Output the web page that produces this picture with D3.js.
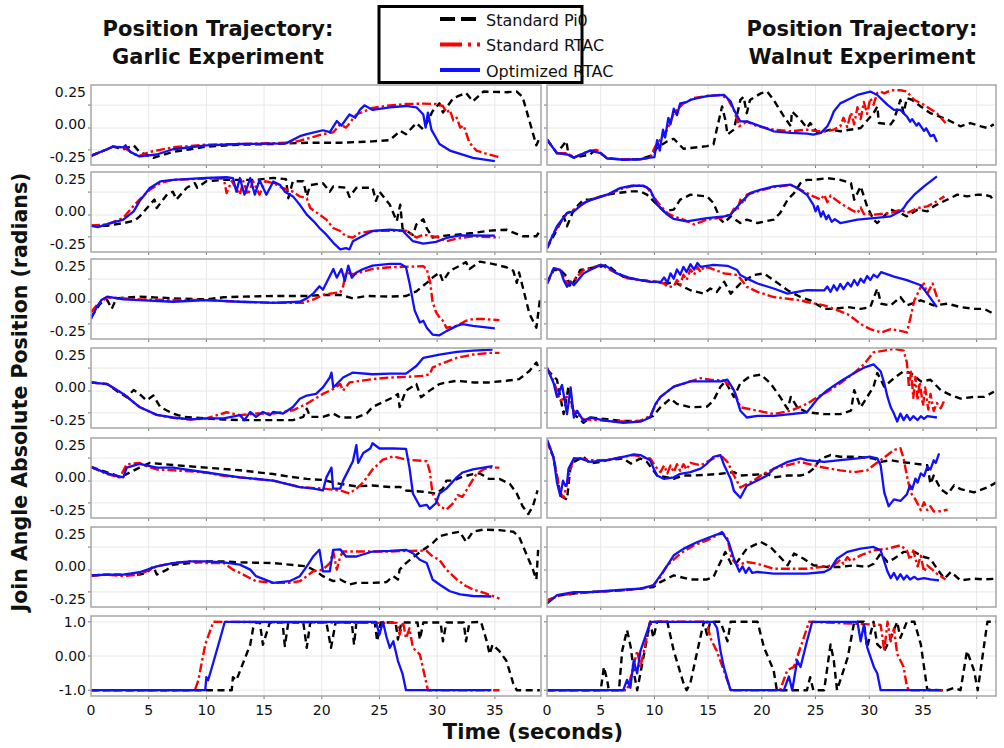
<!DOCTYPE html>
<html>
<head>
<meta charset="utf-8">
<script src="https://cdn.jsdelivr.net/npm/d3@7"></script>
<style>
  body { margin: 0; background: #fff; }
  text { font-family: "DejaVu Sans", sans-serif; fill: #111; }
</style>
</head>
<body>
<div id="chart"></div>
<script>
// ---- data: [time (s), position] per joint (rows 1-6) and gripper (row 7) ----
const seriesNames = ["Standard Pi0", "Standard RTAC", "Optimized RTAC"];
const xTicks = [0, 5, 10, 15, 20, 25, 30, 35];
const jointTickLabels = ["-0.25", "0.00", "0.25"];
const gripperTickLabels = ["-1.0", "0.00", "1.0"];

const garlicPi0 = [
  [[0,-0.24],[1.4,-0.19],[1.9,-0.17],[2.8,-0.19],[3.7,-0.16],[4.2,-0.21],[5.4,-0.255],[7.1,-0.21],[8.6,-0.19],[10,-0.17],[12.9,-0.155],[15.8,-0.15],[18.7,-0.14],[21.6,-0.14],[24.4,-0.13],[25.9,-0.12],[26.8,-0.05],[27.3,-0.075],[28.2,0.01],[28.8,-0.04],[29.6,0.1],[30.2,0.16],[30.5,0.09],[31.4,0.2],[32.5,0.24],[33.1,0.175],[34.0,0.25],[36.0,0.245],[36.9,0.25],[37.4,0.21],[38.0,0.025],[38.6,-0.16],[38.9,-0.1]],
  [[0,-0.11],[1.4,-0.11],[2.8,-0.09],[3.8,-0.07],[4.2,-0.04],[4.8,0.02],[5.5,0.09],[5.7,0.025],[6.6,0.13],[7.1,0.15],[7.4,0.09],[8.3,0.18],[9.0,0.215],[9.2,0.18],[10,0.23],[11.5,0.24],[14.3,0.24],[15.8,0.255],[16.9,0.245],[17.1,0.1],[17.5,0.23],[18.4,0.23],[18.7,0.115],[19.0,0.2],[20.1,0.215],[20.7,0.15],[21.0,0.19],[22.1,0.18],[22.4,0.11],[23.0,0.18],[24.4,0.18],[24.7,0.08],[25.0,0.15],[25.9,0.05],[26.5,-0.075],[26.8,0.05],[27.0,-0.13],[27.9,-0.18],[28.2,-0.1],[28.8,-0.06],[29.1,-0.13],[29.6,-0.2],[30.2,-0.19],[31.7,-0.178],[33.1,-0.165],[34.6,-0.147],[36.0,-0.14],[37.4,-0.19],[38.6,-0.19],[38.9,-0.15]],
  [[0,-0.145],[0.8,-0.04],[1.4,-0.013],[1.8,-0.08],[2.2,0.0],[4.2,0.013],[7.1,0.0],[10,-0.008],[11.5,0.008],[12.9,0.013],[15.8,0.018],[18.7,0.018],[20.1,0.026],[21.6,0.026],[22.7,0.0],[23.9,0.018],[25.9,0.013],[27.3,0.018],[28.2,0.053],[29.1,0.118],[29.6,0.158],[30.2,0.197],[30.5,0.13],[31.1,0.21],[31.7,0.237],[32.5,0.276],[32.8,0.224],[33.7,0.28],[34.8,0.263],[36.0,0.237],[36.6,0.21],[36.9,0.118],[37.1,0.197],[37.4,0.092],[38.0,-0.118],[38.6,-0.224],[38.9,-0.013]],
  [[0,0.0375],[1.4,0.025],[2.2,-0.025],[3.1,-0.075],[3.7,-0.02],[4.2,-0.05],[4.8,-0.1],[5.4,-0.0625],[6.0,-0.15],[7.1,-0.2],[8.0,-0.225],[10,-0.237],[11.5,-0.245],[12.9,-0.25],[15.8,-0.25],[17.5,-0.25],[18.4,-0.225],[18.7,-0.1625],[19.0,-0.225],[20.1,-0.225],[21.0,-0.2],[21.6,-0.23],[23.0,-0.23],[23.9,-0.2],[24.4,-0.15],[25.3,-0.1125],[26.2,-0.075],[26.6,-0.05],[26.75,-0.15],[27.3,-0.025],[28.2,0.025],[28.6,-0.075],[29.35,-0.025],[30.2,0.025],[30.8,0.0375],[31.7,0.05],[33.1,0.0375],[34.5,0.0375],[36.0,0.05],[37.1,0.0625],[38.0,0.125],[38.6,0.19],[38.9,0.125]],
  [[0,0.079],[1.4,0.037],[1.9,0.025],[2.5,0.0],[2.8,0.012],[4.2,0.074],[5.1,0.11],[7.1,0.094],[10,0.074],[12.9,0.054],[15.8,0.025],[17.2,0.005],[18.7,-0.012],[20.1,-0.02],[21.6,-0.05],[23.0,-0.069],[24.4,-0.062],[25.9,-0.074],[26.8,-0.074],[27.3,-0.1],[28.8,-0.11],[29.9,-0.123],[30.5,-0.086],[30.8,-0.025],[31.4,-0.025],[32.2,0.005],[33.1,0.025],[33.7,0.03],[34.5,-0.012],[35.4,-0.012],[36.3,-0.05],[36.9,-0.123],[37.4,-0.22],[37.9,-0.28],[38.3,-0.22],[38.7,-0.1]],
  [[0,-0.07],[1.4,-0.063],[2.8,-0.063],[4.2,-0.063],[4.8,-0.05],[5.4,0.0],[5.7,-0.063],[6.6,-0.025],[7.1,0.0126],[8.6,0.025],[10,0.038],[11.5,0.038],[12.9,0.03],[15.8,0.025],[17.2,0.013],[18.7,0.0],[19.5,-0.038],[20.1,-0.075],[21.0,-0.113],[21.6,-0.1],[22.4,-0.138],[23.0,-0.126],[24.4,-0.126],[25.6,-0.12],[26.2,-0.075],[26.6,-0.1],[26.75,-0.025],[27.3,0.025],[28.2,0.088],[28.8,0.126],[29.6,0.176],[30.2,0.23],[31.1,0.25],[31.95,0.264],[32.5,0.188],[33.1,0.264],[34.0,0.28],[35.4,0.276],[36.6,0.264],[37.1,0.226],[37.7,0.1],[38.3,-0.025],[38.6,-0.1],[38.75,0.126]],
  [[0,-1],[12.2,-1],[12.3,-0.62],[12.6,-0.71],[13.8,0.33],[14.05,0.81],[14.3,0.98],[14.63,0.98],[14.9,0.33],[15.5,0.98],[16.6,0.98],[16.8,0.29],[17.1,0.98],[18.4,0.98],[18.7,0.24],[19.0,0.98],[20.4,0.98],[20.8,0.24],[21.2,0.98],[22.6,0.98],[22.8,0.33],[23.0,0.98],[24.6,0.98],[24.8,0.43],[25.1,0.98],[26.4,0.98],[26.6,0.48],[26.9,0.98],[28.3,0.98],[28.5,0.48],[28.8,0.98],[30.3,0.98],[30.5,0.43],[30.8,0.98],[32.3,0.98],[32.5,0.43],[32.8,0.98],[33.8,1.0],[34.3,0.43],[34.55,0.05],[34.8,0.33],[35.4,0.14],[36.0,-0.14],[36.6,-0.81],[36.9,-1],[38.9,-1]]
];

const garlicRtac = [
  [[0,-0.24],[1.4,-0.19],[1.9,-0.17],[2.8,-0.175],[3.7,-0.225],[4.2,-0.24],[5.1,-0.21],[7.1,-0.175],[10,-0.155],[12.9,-0.15],[17.2,-0.14],[18.1,-0.125],[18.7,-0.11],[19.3,-0.095],[20.1,-0.075],[21.0,-0.06],[21.6,0.0],[22.1,-0.025],[23.0,0.075],[24.4,0.125],[25.9,0.145],[27.3,0.155],[28.8,0.158],[29.9,0.155],[30.5,0.14],[30.8,0.09],[31.1,0.11],[31.4,0.03],[31.7,0.05],[32.0,-0.025],[32.3,-0.01],[32.8,-0.14],[33.4,-0.2],[34.3,-0.225],[35.4,-0.25]],
  [[0,-0.11],[1.4,-0.1],[2.8,-0.05],[3.4,0.013],[4.2,0.09],[5.1,0.165],[6.0,0.215],[7.1,0.24],[10,0.25],[11.5,0.25],[11.75,0.14],[12.2,0.23],[12.9,0.127],[13.2,0.23],[13.6,0.127],[14.05,0.23],[14.6,0.127],[15.1,0.23],[15.8,0.215],[16.6,0.178],[17.5,0.15],[18.1,0.114],[18.7,0.1],[19.0,0.025],[19.8,-0.025],[20.4,-0.063],[21.0,-0.127],[21.6,-0.15],[22.1,-0.19],[22.7,-0.2],[23.3,-0.165],[24.4,-0.15],[27.3,-0.147],[28.2,-0.2],[28.8,-0.178],[30.2,-0.2],[30.8,-0.228],[31.7,-0.208],[33.1,-0.19],[35.4,-0.2]],
  [[0,-0.105],[0.5,-0.053],[1.07,-0.013],[1.4,0.008],[4.2,-0.008],[7.1,-0.013],[10,-0.013],[12.9,-0.026],[15.8,-0.034],[18.4,-0.034],[19.3,-0.008],[20.1,0.026],[21.0,0.04],[21.6,0.045],[21.85,0.092],[22.1,0.197],[22.7,0.184],[23.3,0.197],[24.4,0.224],[25.9,0.237],[28.8,0.245],[29.1,0.224],[29.4,0.118],[29.6,-0.026],[29.9,-0.105],[30.2,-0.145],[30.5,-0.171],[30.8,-0.224],[31.7,-0.21],[32.5,-0.171],[33.1,-0.158],[34.0,-0.158],[35.4,-0.166]],
  [[0,0.0375],[1.4,0.025],[2.8,-0.05],[4.2,-0.15],[5.7,-0.21],[7.1,-0.232],[8.6,-0.245],[10,-0.237],[11.75,-0.19],[12.9,-0.212],[14.3,-0.2],[15.8,-0.2],[17.5,-0.175],[18.7,-0.125],[20.1,-0.05],[21.0,-0.0125],[21.6,0.025],[21.85,-0.025],[22.4,0.0375],[24.4,0.0625],[25.9,0.075],[27.3,0.08],[28.8,0.0875],[29.35,0.1],[29.6,0.15],[30.2,0.175],[31.7,0.225],[33.1,0.25],[34.5,0.2625],[35.4,0.2625]],
  [[0,0.079],[1.4,0.025],[2.5,0.0],[3.1,0.1],[4.2,0.11],[4.8,0.086],[5.7,0.06],[7.1,0.054],[10,0.037],[11.5,0.012],[12.9,0.0],[15.8,-0.025],[18.1,-0.074],[20.1,-0.086],[21.6,-0.1],[22.4,-0.123],[23.0,-0.086],[23.6,-0.037],[24.4,0.06],[25.3,0.135],[26.2,0.16],[27.3,0.135],[29.1,0.123],[29.35,0.05],[29.6,-0.123],[30.2,-0.22],[30.8,-0.246],[31.4,-0.197],[31.8,-0.135],[32.2,-0.148],[32.8,-0.06],[33.4,0.025],[34.0,0.06],[34.5,0.074],[35.4,0.074]],
  [[0,-0.07],[1.4,-0.063],[2.8,-0.075],[4.2,-0.063],[5.7,0.0],[7.1,0.025],[8.6,0.038],[10,0.025],[11.5,0.025],[12.3,-0.025],[12.9,-0.05],[14.3,-0.113],[15.8,-0.126],[17.2,-0.126],[18.1,-0.113],[18.7,-0.075],[19.25,-0.038],[20.1,-0.025],[20.7,0.025],[21.0,0.113],[21.3,-0.025],[21.6,0.075],[21.85,0.113],[22.4,0.113],[24.4,0.113],[25.9,0.113],[27.3,0.118],[29.06,0.12],[29.6,0.075],[30.2,0.05],[30.8,-0.025],[31.7,-0.1],[32.5,-0.15],[33.1,-0.176],[34.0,-0.2],[34.8,-0.226],[35.4,-0.246]],
  [[0,-1],[9.0,-1],[9.3,-0.71],[9.9,0.33],[10.6,1.0],[25.0,0.97],[26.5,0.97],[26.75,0.62],[27.04,1.0],[27.3,0.52],[27.6,0.81],[27.9,0.24],[28.2,0.14],[28.5,0.05],[29.2,-1],[35.4,-1]]
];

const garlicOpt = [
  [[0,-0.24],[1.4,-0.19],[1.9,-0.17],[2.8,-0.175],[3.0,-0.16],[3.4,-0.21],[4.2,-0.245],[5.7,-0.23],[7.1,-0.19],[10,-0.16],[12.9,-0.15],[16.9,-0.145],[18.1,-0.09],[18.7,-0.075],[20.1,-0.045],[20.7,-0.06],[21.3,0.025],[21.7,-0.01],[22.4,0.075],[22.9,0.05],[23.3,0.11],[23.7,0.145],[24.4,0.11],[25.9,0.13],[27.3,0.14],[28.2,0.13],[28.8,0.075],[29.0,-0.025],[29.2,0.09],[29.5,-0.04],[30.2,-0.15],[31.1,-0.2],[32.0,-0.225],[33.1,-0.255],[35.0,-0.28]],
  [[0,-0.11],[0.6,-0.12],[1.4,-0.097],[2.8,-0.063],[3.7,0.0],[4.2,0.076],[5.1,0.178],[6.0,0.228],[7.1,0.24],[10,0.255],[11.75,0.26],[12.3,0.254],[12.6,0.15],[12.9,0.254],[13.3,0.127],[13.8,0.254],[14.2,0.127],[14.6,0.24],[15.2,0.127],[15.8,0.228],[16.4,0.2],[16.8,0.15],[17.5,0.114],[18.1,0.05],[18.7,-0.025],[19.3,-0.076],[19.8,-0.127],[20.4,-0.178],[21.0,-0.24],[21.6,-0.29],[22.1,-0.28],[22.4,-0.29],[22.7,-0.228],[23.3,-0.2],[24.4,-0.15],[25.9,-0.14],[27.0,-0.147],[27.9,-0.228],[28.8,-0.246],[29.9,-0.233],[30.8,-0.203],[32.0,-0.183],[35.0,-0.185]],
  [[0,-0.158],[0.5,-0.066],[0.9,-0.013],[1.4,0.013],[2.8,-0.008],[4.2,-0.013],[7.1,-0.026],[10,-0.013],[12.9,-0.026],[15.8,-0.034],[18.1,-0.026],[18.7,0.0],[19.3,0.04],[19.8,0.092],[20.1,0.066],[20.7,0.171],[21.0,0.224],[21.3,0.158],[21.7,0.224],[22.0,0.132],[22.3,0.25],[22.6,0.158],[23.0,0.197],[23.6,0.224],[24.4,0.25],[25.9,0.263],[26.8,0.263],[27.3,0.237],[27.6,0.118],[28.05,-0.092],[28.5,-0.184],[28.8,-0.171],[29.1,-0.224],[29.6,-0.276],[30.2,-0.282],[30.8,-0.25],[31.7,-0.21],[32.2,-0.197],[33.1,-0.21],[35.0,-0.229]],
  [[0,0.0375],[1.4,0.025],[2.8,-0.05],[4.2,-0.15],[5.7,-0.21],[7.1,-0.23],[8.6,-0.245],[10,-0.237],[11.5,-0.237],[12.9,-0.212],[13.3,-0.25],[13.8,-0.1875],[14.3,-0.225],[14.9,-0.1875],[15.5,-0.212],[15.8,-0.1875],[16.65,-0.2],[17.5,-0.15],[18.1,-0.0875],[18.7,-0.0625],[19.5,-0.05],[20.1,0.0],[20.7,0.075],[20.84,0.1125],[21.0,0.0],[21.3,0.025],[21.85,0.075],[22.7,0.1125],[24.4,0.1],[25.9,0.105],[27.3,0.105],[28.2,0.1625],[28.8,0.225],[30.2,0.25],[31.7,0.27],[33.1,0.28],[34.8,0.2875]],
  [[0,0.079],[1.4,0.03],[2.8,0.0],[3.1,0.074],[4.2,0.103],[5.7,0.074],[7.1,0.074],[10,0.037],[12.9,0.0],[15.8,-0.025],[18.1,-0.074],[19.3,-0.086],[20.1,-0.1],[20.4,0.0],[20.84,0.074],[20.98,-0.086],[21.6,-0.086],[21.85,-0.025],[22.7,0.123],[23.0,0.246],[23.15,0.11],[23.6,0.185],[24.2,0.22],[24.4,0.26],[25.0,0.22],[26.2,0.22],[27.3,0.217],[27.6,0.074],[27.9,-0.123],[28.5,-0.22],[29.1,-0.21],[29.35,-0.24],[29.9,-0.197],[30.2,-0.123],[30.8,-0.086],[31.7,0.0],[32.2,0.037],[33.1,0.06],[34.8,0.086]],
  [[0,-0.07],[1.4,-0.063],[2.8,-0.063],[4.2,-0.045],[5.7,0.0],[7.1,0.025],[8.6,0.038],[10,0.038],[11.5,0.03],[12.9,0.013],[13.8,-0.025],[14.3,-0.075],[15.8,-0.126],[17.2,-0.113],[18.1,-0.075],[18.7,0.0],[19.25,0.075],[19.8,0.126],[20.1,-0.038],[20.7,-0.038],[20.98,0.126],[21.6,0.13],[22.1,0.075],[23.0,0.075],[24.4,0.113],[25.9,0.118],[27.3,0.126],[27.9,0.1],[28.5,0.05],[29.1,0.025],[29.6,-0.1],[30.2,-0.138],[31.1,-0.19],[32.0,-0.214],[33.1,-0.226],[34.7,-0.23]],
  [[0,-1],[9.9,-1],[10.0,-0.62],[10.15,-0.71],[10.6,-0.19],[11.2,0.52],[11.6,1.0],[24.7,1.0],[25.0,0.62],[25.3,1.0],[25.6,0.57],[25.9,0.24],[26.2,0.43],[26.6,-0.14],[27.0,-0.52],[27.3,-1],[34.7,-1]]
];

const walnutPi0 = [
  [[0,-0.116],[0.93,-0.22],[1.55,-0.153],[1.8,-0.128],[2.0,-0.23],[2.5,-0.254],[4.0,-0.23],[4.5,-0.196],[5.0,-0.22],[5.6,-0.26],[7.1,-0.266],[8.7,-0.266],[9.6,-0.24],[10.25,-0.18],[11.2,-0.128],[11.8,-0.11],[12.7,-0.186],[14.9,-0.166],[15.5,-0.153],[15.8,-0.04],[16.3,0.136],[16.6,0.035],[16.8,-0.078],[17.4,-0.04],[18.0,0.186],[18.3,0.21],[18.6,0.085],[18.9,0.186],[19.9,0.236],[20.5,0.25],[21.1,0.186],[22.05,0.06],[22.7,-0.015],[22.8,0.098],[23.6,0.035],[24.2,-0.028],[24.5,0.01],[25.2,-0.065],[26.4,-0.04],[27.3,-0.053],[29.2,-0.028],[30.4,0.085],[30.75,0.136],[30.9,0.01],[32.0,0.0],[32.3,0.035],[32.9,0.186],[33.2,0.085],[33.5,0.2],[34.0,0.186],[34.8,0.136],[35.7,0.085],[37.3,0.035],[38.5,-0.015],[39.4,0.01],[40.4,-0.015],[41.0,-0.028],[41.6,0.0]],
  [[0,-0.28],[0.93,-0.14],[1.55,-0.038],[1.86,-0.114],[2.5,0.013],[3.4,0.089],[4.0,0.089],[5.6,0.127],[6.5,0.139],[7.8,0.152],[8.7,0.152],[9.3,0.127],[10.25,0.051],[10.9,0.0],[11.8,0.013],[12.4,0.089],[13.35,0.127],[14.9,0.114],[15.5,0.063],[16.15,-0.063],[16.5,-0.089],[17.1,-0.038],[18.0,-0.089],[18.6,-0.063],[19.6,-0.089],[21.1,-0.063],[21.7,-0.013],[22.4,0.089],[23.0,0.139],[23.6,0.215],[24.2,0.24],[24.8,0.24],[26.1,0.253],[27.3,0.24],[28.3,0.215],[28.6,0.089],[29.2,0.19],[29.8,0.038],[30.4,-0.063],[30.75,-0.089],[32.0,0.013],[32.9,-0.013],[33.5,-0.038],[34.5,0.013],[35.4,0.0],[36.0,0.038],[36.6,0.063],[38.2,0.127],[39.1,0.114],[40.1,0.127],[40.7,0.127],[41.3,0.114],[41.6,0.076]],
  [[0,0.113],[0.62,0.216],[1.24,0.216],[1.86,0.165],[2.17,0.09],[2.5,0.126],[3.1,0.216],[4.0,0.23],[5.0,0.242],[5.6,0.255],[6.2,0.216],[7.1,0.165],[8.7,0.139],[10.25,0.126],[11.2,0.113],[11.8,0.126],[12.4,0.1],[13.35,0.062],[14.6,0.036],[15.2,0.075],[15.8,0.049],[16.5,0.126],[17.1,0.036],[18.0,0.113],[19.25,0.178],[20.2,0.19],[21.1,0.139],[22.4,0.062],[23.6,0.01],[24.5,-0.015],[25.8,-0.08],[26.7,-0.08],[28.0,-0.067],[29.2,-0.08],[30.1,-0.067],[30.4,0.0],[30.75,0.075],[31.1,-0.041],[32.0,-0.054],[32.9,0.01],[33.5,-0.054],[34.8,-0.015],[36.0,-0.054],[37.3,-0.041],[38.5,-0.067],[39.75,-0.08],[40.7,-0.08],[41.6,-0.119]],
  [[0,0.136],[0.93,0.058],[1.55,-0.204],[2.0,0.005],[2.5,-0.204],[3.4,-0.27],[4.0,-0.23],[5.6,-0.243],[7.1,-0.256],[8.7,-0.256],[9.9,-0.217],[10.56,-0.152],[11.5,-0.086],[12.1,-0.126],[13.35,-0.152],[14.9,-0.147],[15.5,-0.1],[16.15,0.005],[16.6,0.045],[17.4,-0.073],[18.0,0.031],[18.9,0.084],[19.9,0.097],[20.8,0.031],[21.7,-0.073],[22.4,-0.165],[22.7,-0.073],[23.3,-0.152],[24.2,-0.19],[25.8,-0.204],[27.3,-0.204],[28.3,-0.178],[28.6,-0.021],[29.2,-0.152],[30.4,0.005],[30.75,0.11],[31.4,0.005],[32.3,0.07],[33.2,0.123],[33.85,0.11],[34.8,0.045],[35.7,0.058],[36.65,-0.021],[37.6,-0.06],[38.5,-0.086],[39.75,-0.073],[40.7,-0.073],[41.6,-0.034]],
  [[0,0.28],[0.62,0.15],[1.24,-0.14],[1.86,-0.17],[2.17,0.066],[2.5,0.118],[3.4,0.157],[4.0,0.105],[5.0,0.118],[5.6,0.131],[7.1,0.144],[7.8,0.105],[8.7,0.144],[9.3,0.118],[10.25,0.014],[11.2,0.0],[11.8,-0.012],[12.7,0.014],[13.66,0.014],[14.9,0.02],[16.15,0.027],[17.4,0.04],[18.0,0.014],[19.25,0.02],[20.5,0.027],[21.1,0.0],[22.4,0.014],[23.6,0.014],[24.2,0.027],[24.8,0.066],[25.5,0.144],[26.4,0.17],[27.3,0.157],[28.9,0.157],[30.4,0.144],[31.1,0.118],[32.0,0.131],[32.9,0.118],[34.2,0.105],[35.4,0.092],[35.7,-0.05],[36.0,0.014],[36.65,-0.09],[37.3,-0.128],[37.9,-0.06],[38.5,-0.09],[39.75,-0.115],[41.0,-0.077],[41.8,-0.04]],
  [[0,-0.26],[1.24,-0.22],[2.5,-0.208],[4.0,-0.196],[7.1,-0.183],[8.7,-0.17],[9.9,-0.158],[10.56,-0.12],[11.8,-0.069],[13.35,-0.1],[14.9,-0.1],[15.5,-0.081],[16.15,0.033],[16.6,0.11],[17.2,0.008],[17.7,0.033],[18.6,0.135],[19.9,0.186],[20.8,0.148],[21.7,0.071],[22.4,0.008],[23.0,0.097],[23.9,0.058],[24.8,0.008],[26.1,-0.005],[27.3,-0.005],[28.6,0.008],[29.8,-0.005],[30.4,0.02],[31.06,0.097],[31.7,0.033],[32.3,0.058],[33.2,0.11],[34.2,0.11],[35.1,0.071],[35.7,0.058],[36.3,-0.018],[37.0,-0.094],[37.6,-0.043],[38.5,-0.107],[39.75,-0.094],[40.7,-0.1],[41.8,-0.094]],
  [[0,-1],[5.0,-1],[5.3,-0.32],[5.6,-0.7],[5.75,-1],[6.7,-1],[7.0,0.15],[7.45,0.76],[7.8,0.25],[8.1,-0.51],[8.4,-1],[9.6,1.0],[9.9,0.53],[10.25,1.0],[11.2,1.0],[11.8,0.15],[12.7,-0.79],[13.0,-1],[13.35,-0.79],[14.0,0.15],[14.6,1.0],[14.9,0.62],[15.2,1.0],[16.15,1.0],[16.8,0.43],[17.1,1.0],[19.6,1.0],[20.2,0.25],[21.1,-0.42],[21.4,-1],[24.2,-1],[24.5,-0.62],[24.8,-1],[25.8,-1],[26.4,0.34],[26.7,-0.13],[27.0,-1],[28.0,-0.04],[28.6,1.0],[29.5,1.0],[29.8,0.25],[30.4,1.0],[30.75,0.34],[31.4,0.15],[32.0,0.53],[32.6,1.0],[32.9,0.53],[33.5,1.0],[34.2,1.0],[34.8,0.34],[35.4,-0.98],[36.65,-1],[37.3,-1],[37.9,-0.93],[38.5,-1],[39.1,0.15],[39.75,-0.42],[40.1,-1],[41.0,1.0],[41.8,1.0]]
];

const walnutRtac = [
  [[0,-0.116],[0.93,-0.22],[1.9,-0.22],[2.5,-0.254],[4.0,-0.2],[4.66,-0.196],[5.6,-0.26],[7.1,-0.266],[8.7,-0.266],[9.6,-0.254],[10.1,-0.166],[10.56,-0.115],[11.2,-0.04],[11.8,0.085],[12.7,0.16],[13.66,0.2],[14.9,0.216],[16.15,0.224],[16.8,0.198],[17.4,0.11],[17.9,-0.015],[18.6,0.022],[19.6,-0.015],[21.1,-0.04],[22.7,-0.053],[24.2,-0.04],[25.2,-0.053],[26.1,-0.053],[26.7,-0.04],[27.3,-0.015],[27.6,0.05],[27.95,-0.02],[28.3,0.09],[28.6,0.0],[28.9,0.13],[29.2,0.04],[29.5,0.17],[29.8,0.08],[30.1,0.2],[30.4,0.15],[30.75,0.24],[31.06,0.25],[31.4,0.236],[32.0,0.26],[32.9,0.26],[33.5,0.25],[34.2,0.186],[35.1,0.148],[36.3,0.085],[37.1,0.01]],
  [[0,-0.28],[0.62,-0.165],[1.86,-0.013],[2.5,0.013],[4.0,0.089],[5.6,0.127],[7.1,0.177],[8.1,0.195],[8.7,0.195],[9.3,0.185],[9.9,0.114],[10.6,0.038],[11.2,-0.013],[11.8,-0.038],[12.7,-0.063],[13.7,-0.1],[14.9,-0.063],[16.15,-0.05],[17.1,-0.025],[17.4,0.02],[17.7,0.0],[18.0,0.089],[18.3,0.06],[18.6,0.127],[19.6,0.152],[21.1,0.185],[22.7,0.2],[23.6,0.165],[24.2,0.14],[24.8,0.114],[25.5,0.089],[25.8,0.127],[26.1,0.07],[26.4,0.12],[27.3,0.063],[28.3,0.013],[28.9,-0.013],[29.2,0.03],[29.5,-0.02],[30.4,-0.025],[32.0,-0.013],[32.9,0.013],[33.5,-0.013],[34.5,0.025],[35.4,0.038],[36.0,0.063],[37.0,0.114]],
  [[0,0.113],[0.62,0.23],[1.24,0.216],[1.86,0.113],[2.5,0.139],[3.4,0.216],[4.0,0.23],[5.0,0.255],[5.6,0.23],[6.5,0.19],[7.5,0.152],[8.7,0.139],[10.0,0.126],[10.9,0.113],[11.2,0.088],[11.8,0.09],[12.1,0.14],[12.4,0.1],[12.7,0.18],[13.0,0.14],[13.35,0.22],[13.7,0.18],[14.0,0.24],[14.3,0.2],[14.6,0.24],[15.2,0.23],[16.5,0.19],[17.7,0.178],[18.0,0.152],[18.6,0.088],[19.6,0.049],[21.1,0.01],[22.4,-0.003],[23.6,-0.015],[24.2,-0.028],[25.8,-0.054],[26.7,-0.08],[27.95,-0.119],[28.6,-0.157],[29.2,-0.196],[30.1,-0.235],[31.1,-0.26],[32.0,-0.235],[32.9,-0.248],[33.5,-0.26],[33.85,-0.144],[34.2,-0.015],[34.5,0.036],[34.8,0.088],[35.1,0.113],[35.4,0.036],[35.9,0.113],[36.3,0.01],[36.65,-0.041]],
  [[0,0.149],[0.62,0.045],[1.24,-0.1],[1.86,-0.073],[2.5,-0.178],[3.4,-0.243],[5.6,-0.256],[7.1,-0.26],[8.7,-0.256],[9.6,-0.217],[10.0,-0.152],[10.56,-0.073],[11.8,0.005],[13.35,0.045],[14.3,0.07],[15.2,0.058],[16.5,0.052],[17.4,-0.021],[18.0,-0.152],[19.6,-0.178],[21.1,-0.204],[22.7,-0.178],[24.2,-0.126],[25.2,-0.073],[26.1,-0.034],[27.3,0.031],[28.6,0.11],[29.5,0.175],[30.4,0.267],[31.4,0.28],[32.3,0.293],[33.2,0.28],[33.5,0.19],[33.7,0.0],[33.9,0.12],[34.1,-0.08],[34.3,0.08],[34.5,-0.1],[34.7,0.04],[35.0,-0.14],[35.2,0.0],[35.5,-0.17],[35.7,-0.05],[36.0,-0.18],[36.3,-0.12],[36.65,-0.16],[37.0,-0.1]],
  [[0,0.274],[0.62,0.144],[1.24,-0.116],[1.55,-0.155],[1.86,-0.051],[2.17,0.066],[2.5,0.144],[3.1,0.144],[4.0,0.131],[5.6,0.131],[7.1,0.157],[8.1,0.17],[8.7,0.157],[9.6,0.144],[10.25,0.066],[10.56,0.04],[10.9,0.09],[11.2,0.03],[11.5,0.09],[11.8,0.04],[12.1,0.1],[12.4,0.05],[12.7,0.1],[13.0,0.06],[13.35,0.11],[14.3,0.092],[14.9,0.118],[15.5,0.144],[16.15,0.17],[16.8,0.118],[17.4,0.014],[18.0,-0.077],[18.6,-0.051],[19.25,-0.025],[19.9,0.014],[21.1,0.066],[22.4,0.092],[23.6,0.118],[24.2,0.105],[25.5,0.079],[27.3,0.053],[28.6,0.04],[29.8,0.053],[30.4,0.092],[31.06,0.131],[31.7,0.17],[32.3,0.209],[32.9,0.222],[33.2,0.144],[33.5,0.014],[33.85,-0.116],[34.2,-0.155],[34.5,-0.2],[34.8,-0.25],[35.1,-0.19],[35.4,-0.25],[35.7,-0.22],[36.0,-0.26],[36.65,-0.258],[37.3,-0.246]],
  [[0,-0.26],[1.24,-0.22],[2.5,-0.208],[4.0,-0.196],[5.6,-0.188],[7.1,-0.183],[8.7,-0.17],[9.9,-0.145],[10.56,-0.081],[11.2,0.008],[12.4,0.097],[13.66,0.16],[14.9,0.198],[15.84,0.237],[16.3,0.262],[16.8,0.211],[17.2,0.059],[17.7,0.008],[18.6,0.033],[19.6,0.02],[21.1,-0.018],[22.7,-0.018],[24.2,-0.018],[25.5,-0.005],[26.7,0.008],[27.3,0.05],[27.6,0.02],[27.95,0.07],[28.3,0.04],[29.2,0.084],[30.4,0.122],[31.7,0.135],[32.9,0.16],[33.5,0.122],[33.8,0.05],[34.1,0.12],[34.5,0.0],[34.8,0.08],[35.1,-0.04],[35.4,0.008],[36.3,-0.056],[37.1,-0.1]],
  [[0,-1],[7.45,-1],[7.8,-0.62],[8.4,0.15],[8.7,-0.32],[9.6,1.0],[14.9,1.0],[15.2,0.53],[15.8,0.15],[16.46,-0.42],[17.1,-1],[21.7,-1],[22.36,-0.42],[22.98,-0.32],[23.9,0.53],[24.4,1.0],[31.06,0.91],[31.4,0.15],[31.7,1.0],[32.0,0.43],[32.3,0.81],[32.6,0.06],[33.2,-0.32],[33.5,-0.89],[33.7,-1],[37.1,-1]]
];

const walnutOpt = [
  [[0,-0.116],[0.93,-0.22],[1.9,-0.23],[2.5,-0.254],[4.0,-0.2],[5.0,-0.22],[5.6,-0.26],[7.1,-0.27],[8.7,-0.266],[9.6,-0.254],[10.0,-0.25],[10.25,-0.12],[10.5,-0.2],[10.8,-0.04],[11.0,-0.1],[11.3,0.05],[11.5,0.0],[11.8,0.12],[12.1,0.07],[12.4,0.16],[13.0,0.17],[13.35,0.186],[14.0,0.2],[14.9,0.216],[16.5,0.224],[17.1,0.174],[17.4,0.11],[18.0,0.022],[18.6,0.022],[19.9,-0.015],[21.1,-0.053],[22.7,-0.065],[24.2,-0.07],[24.8,-0.078],[25.5,-0.065],[26.1,-0.015],[26.4,0.035],[26.7,0.098],[27.3,0.16],[27.95,0.186],[28.9,0.224],[30.1,0.25],[30.75,0.224],[31.7,0.148],[32.3,0.11],[32.9,0.11],[33.5,0.06],[33.8,0.02],[34.0,0.04],[34.4,-0.01],[34.6,0.01],[35.1,-0.05],[35.3,-0.03],[35.7,-0.09],[36.0,-0.08],[36.3,-0.135]],
  [[0,-0.28],[0.93,-0.114],[1.86,-0.013],[2.5,0.0],[3.4,0.063],[4.0,0.084],[5.6,0.127],[6.8,0.177],[7.8,0.195],[9.0,0.195],[9.6,0.165],[9.9,0.114],[10.25,0.051],[11.2,-0.025],[11.8,-0.058],[13.0,-0.076],[14.9,-0.051],[16.5,-0.038],[17.1,-0.025],[18.0,0.063],[18.9,0.139],[19.9,0.165],[21.1,0.19],[22.7,0.203],[23.3,0.177],[24.2,0.127],[24.8,0.05],[25.0,0.0],[25.2,0.04],[25.5,-0.04],[25.7,0.0],[26.0,-0.06],[26.2,-0.03],[26.5,-0.08],[26.8,-0.06],[27.3,-0.089],[28.9,-0.063],[30.4,-0.051],[32.0,-0.038],[32.9,0.0],[33.2,0.025],[33.5,0.063],[34.2,0.127],[35.1,0.19],[36.3,0.266]],
  [[0,0.113],[0.62,0.23],[1.24,0.216],[1.55,0.139],[1.86,0.088],[2.17,0.126],[2.5,0.1],[3.4,0.19],[4.0,0.216],[5.0,0.255],[5.6,0.242],[6.5,0.19],[7.8,0.152],[8.7,0.139],[9.6,0.126],[10.6,0.126],[10.9,0.16],[11.2,0.12],[11.5,0.19],[11.8,0.15],[12.1,0.22],[12.4,0.18],[12.7,0.24],[13.0,0.2],[13.35,0.26],[13.7,0.22],[14.0,0.27],[14.3,0.24],[15.5,0.255],[16.8,0.248],[17.7,0.216],[18.0,0.178],[18.6,0.152],[19.6,0.113],[21.1,0.075],[22.4,0.036],[23.3,0.049],[24.2,0.062],[25.8,0.06],[26.1,0.09],[26.4,0.05],[26.7,0.1],[27.0,0.06],[27.3,0.11],[27.6,0.07],[28.0,0.12],[28.3,0.09],[28.6,0.14],[28.9,0.1],[29.2,0.15],[29.5,0.12],[29.8,0.17],[30.1,0.14],[30.4,0.18],[30.75,0.16],[31.1,0.2],[32.3,0.165],[33.5,0.139],[34.8,0.1],[35.4,0.036],[36.3,-0.067]],
  [[0,0.149],[0.62,0.031],[0.93,-0.073],[1.4,0.018],[1.86,-0.204],[2.2,0.0],[2.5,-0.23],[2.8,-0.178],[3.4,-0.256],[4.0,-0.23],[5.6,-0.256],[7.1,-0.27],[8.7,-0.262],[9.6,-0.23],[10.1,-0.126],[10.56,-0.073],[11.8,0.005],[13.35,0.045],[14.9,0.045],[16.15,0.045],[16.8,0.058],[17.4,-0.021],[18.0,-0.178],[18.6,-0.23],[19.6,-0.217],[21.1,-0.217],[22.7,-0.204],[24.2,-0.19],[25.2,-0.086],[26.1,-0.021],[27.3,0.045],[28.6,0.11],[29.5,0.15],[30.4,0.175],[31.06,0.123],[31.4,0.031],[31.7,-0.073],[32.0,-0.152],[32.3,-0.2],[32.6,-0.26],[32.9,-0.2],[33.2,-0.25],[33.5,-0.21],[33.8,-0.25],[34.1,-0.22],[34.5,-0.25],[34.8,-0.22],[35.1,-0.24],[35.4,-0.22],[36.3,-0.23]],
  [[0,0.287],[0.31,0.222],[0.62,0.144],[0.93,-0.04],[1.24,-0.142],[1.49,-0.025],[1.71,-0.064],[1.86,-0.051],[2.0,0.066],[2.17,0.092],[2.5,0.144],[3.1,0.144],[4.0,0.118],[5.6,0.131],[7.1,0.157],[8.1,0.175],[8.7,0.17],[9.6,0.131],[9.94,0.066],[10.25,0.014],[10.9,-0.012],[11.8,0.0],[12.4,0.027],[13.35,0.04],[14.3,0.066],[14.9,0.105],[15.5,0.157],[16.15,0.17],[16.5,0.092],[17.1,-0.012],[17.4,-0.103],[18.0,-0.155],[18.6,-0.064],[19.25,-0.038],[20.5,0.014],[21.1,0.066],[22.4,0.118],[23.6,0.144],[24.2,0.131],[25.8,0.118],[27.3,0.131],[28.9,0.144],[30.1,0.157],[30.75,0.144],[31.06,0.092],[31.4,-0.116],[31.8,-0.22],[32.3,-0.168],[32.9,-0.18],[33.5,-0.13],[33.8,-0.06],[34.0,-0.09],[34.3,-0.01],[34.5,-0.04],[34.8,0.03],[35.1,0.01],[35.4,0.08],[35.7,0.06],[36.0,0.13],[36.2,0.11],[36.5,0.183]],
  [[0,-0.285],[0.93,-0.22],[2.5,-0.196],[4.0,-0.196],[5.6,-0.188],[7.1,-0.178],[8.7,-0.17],[9.9,-0.145],[10.56,-0.069],[11.2,0.008],[11.8,0.084],[12.73,0.135],[14.0,0.186],[15.2,0.224],[16.3,0.257],[16.9,0.186],[17.4,0.058],[17.9,-0.04],[18.2,0.0],[18.5,-0.05],[18.8,-0.01],[19.1,-0.05],[19.6,-0.043],[21.1,-0.056],[22.7,-0.056],[24.2,-0.056],[25.8,-0.043],[26.4,-0.018],[27.0,0.058],[27.95,0.11],[29.2,0.135],[30.4,0.148],[31.06,0.122],[31.7,-0.04],[32.0,-0.09],[32.3,-0.05],[32.6,-0.1],[32.9,-0.06],[33.2,-0.1],[33.5,-0.07],[33.8,-0.1],[34.2,-0.08],[34.5,-0.1],[35.1,-0.09],[35.7,-0.1],[36.5,-0.107]],
  [[0,-1],[7.1,-1],[7.45,-0.7],[7.76,-0.93],[8.07,-0.13],[8.39,-0.51],[8.7,0.15],[9.63,1.0],[15.5,1.0],[15.84,0.81],[16.15,0.15],[16.46,-0.32],[17.08,-1],[22.05,-1],[22.52,-0.6],[22.83,-1],[23.29,-0.13],[23.6,-0.32],[24.2,0.43],[24.69,1.0],[28.9,1.0],[29.2,0.43],[29.5,0.91],[29.81,0.25],[30.43,-0.32],[30.75,-0.51],[31.06,-1],[36.65,-1]]
];

// ---- layout ----
const width = 1004, height = 748;
const rowTops = [85, 172, 259, 348, 438, 527, 616];
const rowH = 80;
const jointDomain = [-0.31, 0.30];
const gripperDomain = [-1.17, 1.17];
const jointLabelVals = [-0.25, 0, 0.25];
const gripperLabelVals = [-1, 0, 1];
const jointGridVals = [-0.195, -0.028, 0.147];

const columns = [
  { x0: 91, x1: 541, xMax: 39, series: [garlicPi0, garlicRtac, garlicOpt], title: ["Position Trajectory:", "Garlic Experiment"], titleX: 218, yLabels: true },
  { x0: 547, x1: 996, xMax: 41.8, series: [walnutPi0, walnutRtac, walnutOpt], title: ["Position Trajectory:", "Walnut Experiment"], titleX: 862, yLabels: false }
];

const styles = [
  { color: "#000000", dash: "7,4.5", width: 2.4 },
  { color: "#ff0000", dash: "9,3,2.5,3", width: 2.4 },
  { color: "#1010ff", dash: null, width: 2.3 }
];

const svg = d3.select("#chart").append("svg")
  .attr("width", width)
  .attr("height", height);

svg.append("rect").attr("width", width).attr("height", height).attr("fill", "#fff");

const defs = svg.append("defs");

columns.forEach((col, ci) => {
  const x = d3.scaleLinear().domain([0, col.xMax]).range([col.x0, col.x1]);

  // column title
  col.title.forEach((t, i) => {
    svg.append("text")
      .attr("x", col.titleX)
      .attr("y", 36 + i * 28)
      .attr("text-anchor", "middle")
      .style("font-size", "21px")
      .style("font-weight", "bold")
      .text(t);
  });

  rowTops.forEach((top, r) => {
    const isGripper = r === rowTops.length - 1;
    const y = d3.scaleLinear()
      .domain(isGripper ? gripperDomain : jointDomain)
      .range([top + rowH, top]);
    const g = svg.append("g").attr("class", "panel");

    // grid
    g.selectAll(".vgrid")
      .data(d3.range(5, col.xMax, 5))
      .enter()
      .append("line")
      .attr("x1", d => x(d)).attr("x2", d => x(d))
      .attr("y1", top).attr("y2", top + rowH)
      .attr("stroke", "#e8e8e8").attr("stroke-width", 1);

    const gridVals = isGripper ? gripperLabelVals : jointGridVals;
    g.selectAll(".hgrid")
      .data(gridVals)
      .enter()
      .append("line")
      .attr("x1", col.x0).attr("x2", col.x1)
      .attr("y1", d => y(d)).attr("y2", d => y(d))
      .attr("stroke", "#e8e8e8").attr("stroke-width", 1);

    // small tick marks
    g.selectAll(".ytick")
      .data(gridVals)
      .enter()
      .append("line")
      .attr("x1", col.x0 - 3).attr("x2", col.x0)
      .attr("y1", d => y(d)).attr("y2", d => y(d))
      .attr("stroke", "#777").attr("stroke-width", 1);

    g.selectAll(".xtick")
      .data(d3.range(5, col.xMax, 5))
      .enter()
      .append("line")
      .attr("x1", d => x(d)).attr("x2", d => x(d))
      .attr("y1", top + rowH).attr("y2", top + rowH + 3)
      .attr("stroke", "#777").attr("stroke-width", 1);

    // clip
    const clipId = `clip-${ci}-${r}`;
    defs.append("clipPath").attr("id", clipId)
      .append("rect")
      .attr("x", col.x0).attr("y", top)
      .attr("width", col.x1 - col.x0).attr("height", rowH);

    const line = d3.line()
      .x(d => x(d[0]))
      .y(d => y(d[1]));

    const lines = g.append("g").attr("clip-path", `url(#${clipId})`);
    col.series.forEach((s, si) => {
      lines.append("path")
        .datum(s[r])
        .attr("d", line)
        .attr("fill", "none")
        .attr("stroke", styles[si].color)
        .attr("stroke-width", styles[si].width)
        .attr("stroke-dasharray", styles[si].dash)
        .attr("stroke-linejoin", "round");
    });

    // frame
    g.append("rect")
      .attr("x", col.x0).attr("y", top)
      .attr("width", col.x1 - col.x0).attr("height", rowH)
      .attr("fill", "none")
      .attr("stroke", "#a6a6a6")
      .attr("stroke-width", 1.5);

    // y labels (left column only)
    if (col.yLabels) {
      const vals = isGripper ? gripperLabelVals : jointLabelVals;
      const labs = isGripper ? gripperTickLabels : jointTickLabels;
      g.selectAll(".ylab")
        .data(vals)
        .enter()
        .append("text")
        .attr("x", col.x0 - 5)
        .attr("y", d => y(d))
        .attr("dy", "0.36em")
        .attr("text-anchor", "end")
        .style("font-size", "14px")
        .text((d, i) => labs[i]);
    }

    // x labels under the bottom row
    if (isGripper) {
      g.selectAll(".xlab")
        .data(xTicks)
        .enter()
        .append("text")
        .attr("x", d => x(d))
        .attr("y", top + rowH + 19)
        .attr("text-anchor", "middle")
        .style("font-size", "14px")
        .text(d => d);
    }
  });
});

// axis titles
svg.append("text")
  .attr("x", 533)
  .attr("y", 739)
  .attr("text-anchor", "middle")
  .style("font-size", "21px")
  .style("font-weight", "bold")
  .text("Time (seconds)");

svg.append("text")
  .attr("transform", "translate(27,392) rotate(-90)")
  .attr("text-anchor", "middle")
  .style("font-size", "20.5px")
  .style("font-weight", "bold")
  .text("Join Angle Absolute Position (radians)");

// legend
const legend = svg.append("g").attr("class", "legend");
legend.append("rect")
  .attr("x", 379).attr("y", 6.5)
  .attr("width", 203).attr("height", 76)
  .attr("fill", "#fff")
  .attr("stroke", "#000")
  .attr("stroke-width", 3);

seriesNames.forEach((name, i) => {
  const ly = 19 + i * 25.5;
  legend.append("line")
    .attr("x1", 440).attr("x2", 480)
    .attr("y1", ly).attr("y2", ly)
    .attr("stroke", styles[i].color)
    .attr("stroke-width", 4)
    .attr("stroke-dasharray", i === 0 ? "15,6" : i === 1 ? "22,6,3,6" : null);
  legend.append("text")
    .attr("x", 486)
    .attr("y", ly + 1)
    .attr("dy", "0.35em")
    .style("font-size", "16px")
    .text(name);
});
</script>
</body>
</html>
